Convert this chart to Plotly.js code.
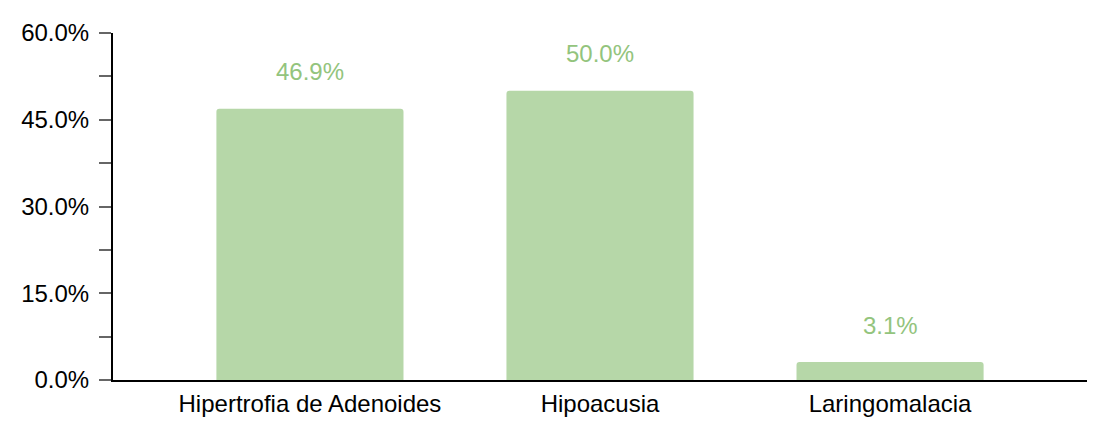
<!DOCTYPE html>
<html>
<head>
<meta charset="utf-8">
<script src="https://cdn.plot.ly/plotly-3.0.1.min.js"></script>
<style>html,body{margin:0;padding:0;background:#fff;}#chart{width:1108px;height:438px;}</style>
</head>
<body>
<div id="chart"></div>
<script>
const categories = ["Hipertrofia de Adenoides", "Hipoacusia", "Laringomalacia"];
const percentValues = [46.9, 50.0, 3.1];
const valueLabels = ["46.9%", "50.0%", "3.1%"];

const FONT = 'Liberation Sans, Arial, Helvetica, sans-serif';

const trace = {
  type: 'bar',
  x: categories,
  y: percentValues,
  marker: {color: '#b6d7a8', cornerradius: 3},
  hoverinfo: 'none'
};

const annotations = categories.map((c, i) => ({
  x: c, y: percentValues[i], xref: 'x', yref: 'y',
  text: valueLabels[i], showarrow: false,
  yanchor: 'middle', yshift: 37,
  font: {family: FONT, size: 24, color: '#93c47d'}
}));

const layout = {
  width: 1108, height: 438,
  margin: {l: 113, r: 21, t: 33, b: 58},
  paper_bgcolor: '#ffffff', plot_bgcolor: '#ffffff',
  showlegend: false,
  bargap: 0.355,
  font: {family: FONT, size: 24, color: '#000'},
  xaxis: {
    type: 'category', range: [-0.679, 2.679],
    showline: true, linecolor: '#000', linewidth: 2,
    ticks: '', showgrid: false, zeroline: false,
    ticklabelstandoff: 1,
    tickfont: {family: FONT, size: 24, color: '#000'}
  },
  yaxis: {
    range: [0, 60], dtick: 15, tick0: 0,
    tickformat: '.1f', ticksuffix: '%',
    showline: true, linecolor: '#000', linewidth: 2,
    ticks: 'outside', ticklen: 12, tickwidth: 2, tickcolor: '#666',
    minor: {dtick: 7.5, ticks: 'outside', ticklen: 12, tickwidth: 2, tickcolor: '#666', showgrid: false},
    showgrid: false, zeroline: false,
    ticklabelstandoff: 5,
    tickfont: {family: FONT, size: 24, color: '#000'}
  },
  annotations: annotations
};

Plotly.newPlot('chart', [trace], layout, {displayModeBar: false, staticPlot: true});
</script>
</body>
</html>
